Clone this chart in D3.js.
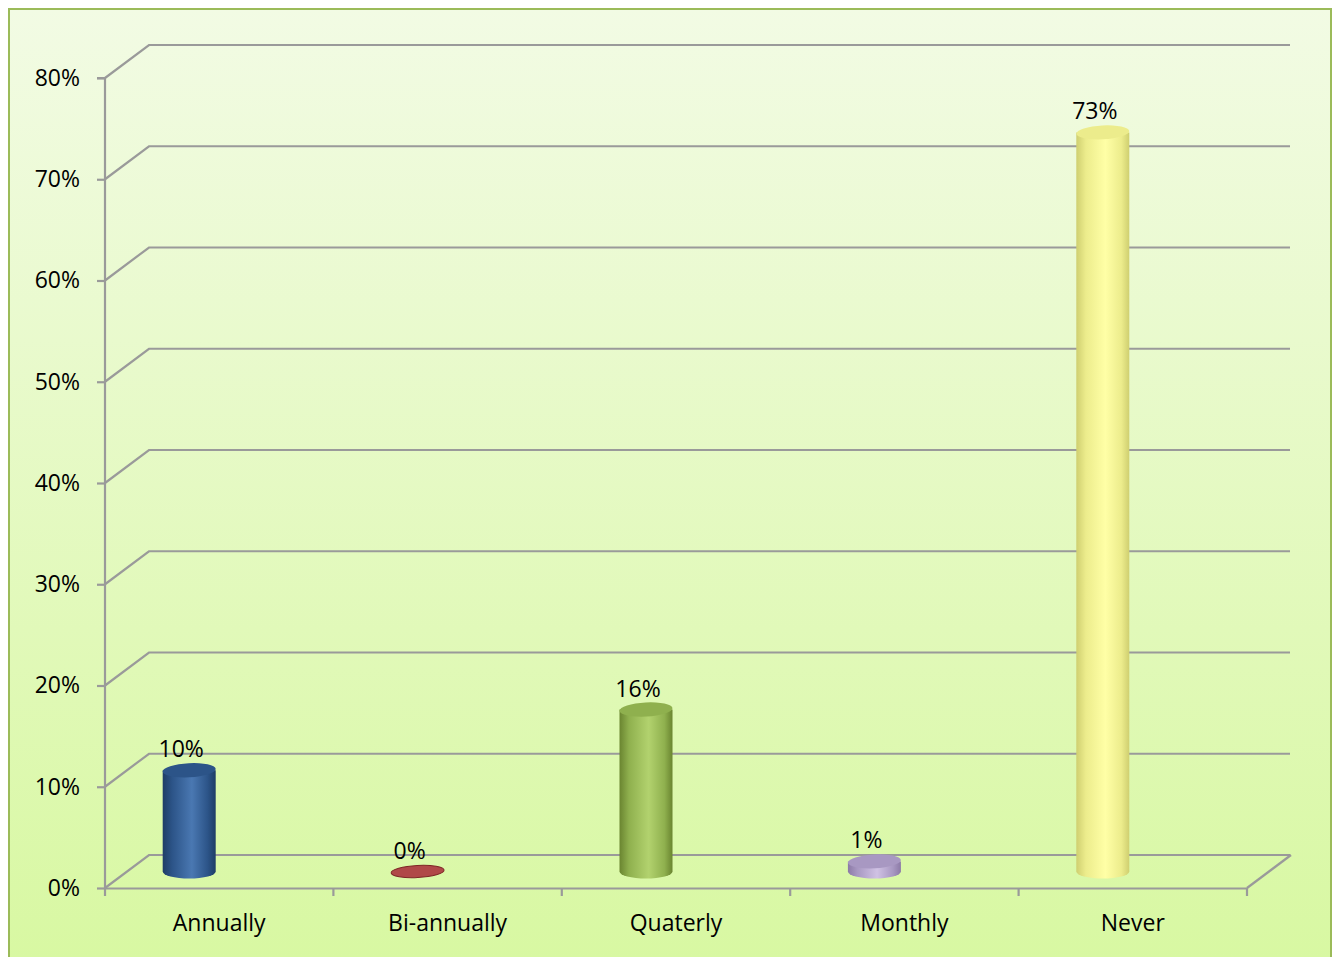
<!DOCTYPE html>
<html>
<head>
<meta charset="utf-8">
<script src="https://cdn.jsdelivr.net/npm/d3@7/dist/d3.min.js"></script>
<style>
  html, body { margin: 0; padding: 0; background: #ffffff; }
  svg { display: block; font-family: "Open Sans", "Liberation Sans", sans-serif; }
</style>
</head>
<body>
<svg id="chart" width="1338" height="957"></svg>
<script>
// Survey: how often the review is carried out
const categories = ["Annually", "Bi-annually", "Quaterly", "Monthly", "Never"];
const values = [0.10, 0.00, 0.16, 0.01, 0.73];
const valueLabels = ["10%", "0%", "16%", "1%", "73%"];
const tickValues = [0, 0.1, 0.2, 0.3, 0.4, 0.5, 0.6, 0.7, 0.8];

// Colour triples per bar: edge shade, body highlight, cap
const barColors = [
  { dark: "#1e3d66", light: "#4a78b2", cap: "#2c5488" },
  { dark: "#7e2626", light: "#b04848", cap: "#a33b3b" },
  { dark: "#6a8530", light: "#b2d26e", cap: "#8fb04e" },
  { dark: "#8c7aa6", light: "#d0c2e4", cap: "#a898c2" },
  { dark: "#cfcf70", light: "#ffffa6", cap: "#ecec8c" }
];

const fontSize = 23;
const svg = d3.select("#chart");

// Chart area background with soft green vertical gradient
const defs = svg.append("defs");
const bg = defs.append("linearGradient").attr("id", "bg")
  .attr("x1", 0).attr("y1", 0).attr("x2", 0).attr("y2", 1);
bg.append("stop").attr("offset", "0%").attr("stop-color", "#f2fbe4");
bg.append("stop").attr("offset", "100%").attr("stop-color", "#d8f8a2");

svg.append("rect")
  .attr("x", 9).attr("y", 9).attr("width", 1322).attr("height", 950)
  .attr("fill", "url(#bg)")
  .attr("stroke", "#9bbb59").attr("stroke-width", 2);

// Depth offset of the 3D back wall
const depthX = 44, depthY = -33;

const x = d3.scaleBand().domain(categories).range([105, 1247]).padding(0);
const y = d3.scaleLinear().domain([0, 0.8]).range([888, 78]);

const gridColor = "#9a9a9a";
const grid = svg.append("g").attr("fill", "none").attr("stroke", gridColor).attr("stroke-width", 2.2);

// Back wall gridlines plus the diagonal on the side wall
tickValues.forEach(t => {
  grid.append("polyline")
    .attr("points", [[105, y(t)], [105 + depthX, y(t) + depthY], [1290, y(t) + depthY]].map(p => p.join(",")).join(" "));
});
// Floor: right diagonal
grid.append("line")
  .attr("x1", 1247).attr("y1", y(0))
  .attr("x2", 1247 + depthX).attr("y2", y(0) + depthY);

// Front value axis
const yAxis = d3.axisLeft(y).tickValues(tickValues).tickFormat(d3.format(".0%")).tickSize(8).tickPadding(17);
const yg = svg.append("g").attr("transform", "translate(105,0)").call(yAxis);
yg.select(".domain").attr("stroke", gridColor).attr("stroke-width", 2.2).attr("d", `M-8,${y(0.8)}H0V${y(0)}`);
yg.selectAll(".tick line").attr("stroke", gridColor).attr("stroke-width", 2.2);
yg.selectAll(".tick text").attr("font-size", fontSize).attr("fill", "#000")
  .attr("font-family", "'Open Sans', sans-serif");

// Front category axis
const xAxis = d3.axisBottom(x).tickSize(0).tickPadding(27);
const xg = svg.append("g").attr("transform", `translate(0,${y(0)})`).call(xAxis);
xg.select(".domain").attr("stroke", gridColor).attr("stroke-width", 2.2);
xg.selectAll(".tick text").attr("font-size", fontSize).attr("fill", "#000")
  .attr("font-family", "'Open Sans', sans-serif");
// Category separators
const edges = categories.map(c => x(c)).concat([x.range()[1]]);
xg.selectAll(".sep").data(edges).join("line").attr("class", "sep")
  .attr("x1", d => d).attr("x2", d => d).attr("y1", 0).attr("y2", 8)
  .attr("stroke", gridColor).attr("stroke-width", 2.2);

// Cylinders sit half way into the depth
const barY = d3.scaleLinear().domain(y.domain()).range(y.range().map(r => r + depthY / 2));
const barShift = -30;
const rx = 26.5, ry = 7, tilt = -3;

// Horizontal gradients for cylinder bodies
barColors.forEach((c, i) => {
  const g = defs.append("linearGradient").attr("id", "body" + i)
    .attr("x1", 0).attr("y1", 0).attr("x2", 1).attr("y2", 0);
  g.append("stop").attr("offset", "0%").attr("stop-color", c.dark);
  g.append("stop").attr("offset", "18%").attr("stop-color", c.cap);
  g.append("stop").attr("offset", "55%").attr("stop-color", c.light);
  g.append("stop").attr("offset", "85%").attr("stop-color", c.cap);
  g.append("stop").attr("offset", "100%").attr("stop-color", c.dark);
});

const bars = svg.append("g").selectAll("g.bar")
  .data(categories.map((c, i) => ({ c, v: values[i], label: valueLabels[i], i })))
  .join("g").attr("class", "bar");

bars.each(function (d) {
  const g = d3.select(this);
  const cx = x(d.c) + x.bandwidth() / 2 + barShift;
  const yb = barY(0), yt = barY(d.v);
  if (d.v > 0) {
    // body: rectangle with a rounded bottom
    const path = `M${cx - rx},${yt} L${cx - rx},${yb} A${rx},${ry} 0 0 0 ${cx + rx},${yb} L${cx + rx},${yt} Z`;
    g.append("path").attr("d", path).attr("fill", `url(#body${d.i})`);
    g.append("ellipse").attr("cx", cx).attr("cy", yt).attr("rx", rx).attr("ry", ry)
      .attr("fill", barColors[d.i].cap)
      .attr("transform", `rotate(${tilt},${cx},${yt})`);
  } else {
    g.append("ellipse").attr("cx", cx).attr("cy", yb).attr("rx", rx).attr("ry", ry - 1)
      .attr("fill", barColors[d.i].light)
      .attr("stroke", barColors[d.i].dark).attr("stroke-width", 1)
      .attr("transform", `rotate(${tilt},${cx},${yb})`);
  }
  g.append("text")
    .attr("x", cx - 8).attr("y", yt - 13)
    .attr("text-anchor", "middle")
    .attr("font-size", fontSize).attr("fill", "#000")
    .text(d.label);
});
</script>
</body>
</html>
